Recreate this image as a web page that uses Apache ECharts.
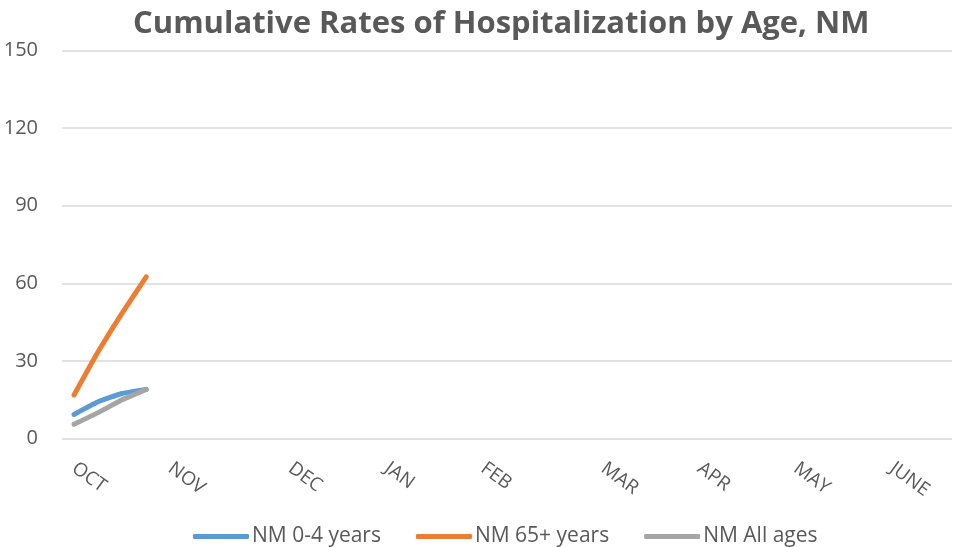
<!DOCTYPE html>
<html>
<head>
<meta charset="utf-8">
<script src="https://cdn.jsdelivr.net/npm/echarts@6/dist/echarts.min.js"></script>
<style>html,body{margin:0;padding:0;background:#fff;}#c{width:953px;height:547px;}</style>
</head>
<body>
<div id="c"></div>
<script>
// Month tick labels and number of weekly slots in each month
var monthLabels = ['OCT', 'NOV', 'DEC', 'JAN', 'FEB', 'MAR', 'APR', 'MAY', 'JUNE'];
var weeksPerMonth = [4, 5, 4, 4, 5, 4, 4, 4, 3];
var yTicks = [0, 30, 60, 90, 120, 150];

// Series values (weekly cumulative rates)
var seriesNames = ['NM 0-4 years', 'NM 65+ years', 'NM All ages'];
var rates0to4 = [9.3, 14.2, 17.4, 19.0];
var rates65plus = [16.8, 33.5, 48.5, 62.5];
var ratesAll = [5.5, 10.0, 15.0, 19.0];

// Build weekly categories (first week of each month carries the month label)
var categories = [];
monthLabels.forEach(function (m, i) {
  for (var w = 0; w < weeksPerMonth[i]; w++) {
    categories.push(w === 0 ? m : m + ' wk' + (w + 1));
  }
});

var chart = echarts.init(document.getElementById('c'));
var font = '"Open Sans", sans-serif';
var grey = '#595959';
function lineSeries(name, data, color) {
  return {
    name: name, type: 'line', data: data, smooth: 0.15,
    showSymbol: false, symbol: 'none',
    lineStyle: { color: color, width: 5, cap: 'round', join: 'round' },
    itemStyle: { color: color }
  };
}
chart.setOption({
  animation: false,
  textStyle: { fontFamily: font },
  title: {
    text: 'Cumulative Rates of Hospitalization by Age, NM',
    left: 128, top: 4,
    textStyle: { fontFamily: font, fontWeight: 'bold', fontSize: 31, color: grey }
  },
  legend: {
    bottom: -5, left: 188,
    icon: 'roundRect', itemWidth: 56, itemHeight: 5, itemGap: 35,
    textStyle: { fontFamily: font, fontSize: 21, color: grey, padding: [0, 0, 0, -2] },
    data: seriesNames
  },
  grid: { left: 62, right: 1, top: 50.5, bottom: 108.5, containLabel: false },
  xAxis: {
    type: 'category', data: categories, boundaryGap: true,
    axisLine: { show: false }, axisTick: { show: false },
    axisLabel: {
      interval: function (idx, val) { return monthLabels.indexOf(val) >= 0; },
      formatter: function (val) { return monthLabels.indexOf(val) >= 0 ? val : ''; },
      rotate: -36, margin: 28, fontSize: 19, color: grey, fontFamily: font
    }
  },
  yAxis: {
    type: 'value', min: yTicks[0], max: yTicks[yTicks.length - 1], interval: 30,
    axisLine: { show: false }, axisTick: { show: false },
    axisLabel: { margin: 24, fontSize: 20, color: grey, fontFamily: font },
    splitLine: { lineStyle: { color: '#d9d9d9', width: 1.5 } }
  },
  series: [
    lineSeries(seriesNames[0], rates0to4, '#5B9BD5'),
    lineSeries(seriesNames[1], rates65plus, '#ED7D31'),
    lineSeries(seriesNames[2], ratesAll, '#A5A5A5')
  ]
});
</script>
</body>
</html>
